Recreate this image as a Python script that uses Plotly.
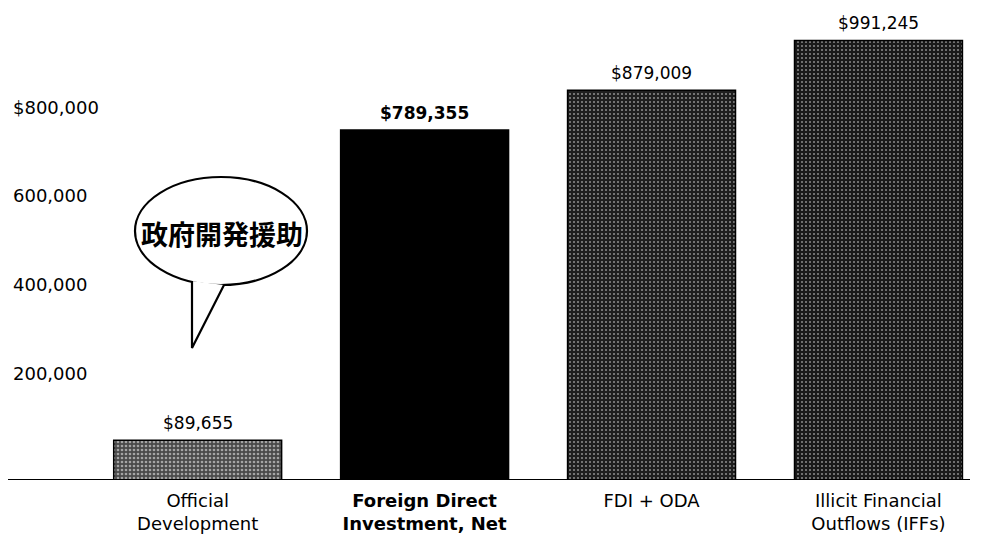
import plotly.graph_objects as go

# Resource flows (US$ millions)
categories = ["Official<br>Development", "<b>Foreign Direct<br>Investment, Net</b>",
              "FDI + ODA", "Illicit Financial<br>Outflows (IFFs)"]
values = [89655, 789355, 879009, 991245]
value_labels = ["$89,655", "<b>$789,355</b>", "$879,009", "$991,245"]
tick_values = [200000, 400000, 600000, 800000]
tick_labels = ["200,000", "400,000", "600,000", "$800,000"]
bubble_text = "政府開発援助"

W, H = 984, 538
MB = 58                     # bottom margin, plot area is full width
PH = H - MB                 # plot height in px


def px(x):
    return x / W


def py(y):
    return (PH - y) / PH


FONT = "DejaVu Sans"

fig = go.Figure()
fig.add_trace(go.Bar(
    x=list(range(len(categories))),
    y=values,
    marker=dict(
        color=["#4a4a4a", "#000000", "#1e1e1e", "#1a1a1a"],
        line=dict(color="#000000", width=1.5),
        pattern=dict(shape=[".", "", ".", "."],
                     fgcolor="#ffffff",
                     size=4,
                     solidity=[0.35, 0.0, 0.2, 0.2],
                     fillmode="overlay"),
    ),
    width=0.74,
    hoverinfo="skip",
))

# value labels above the bars
for i, (v, lab) in enumerate(zip(values, value_labels)):
    fig.add_annotation(x=i, y=v, text=lab, showarrow=False,
                       yanchor="bottom", yshift=5,
                       font=dict(family=FONT, size=17, color="#000"))

# speech bubble
cx, cy, rx, ry = 221, 231, 86, 54
fig.add_shape(type="circle", xref="paper", yref="paper",
              x0=px(cx - rx), x1=px(cx + rx), y0=py(cy + ry), y1=py(cy - ry),
              line=dict(color="#000", width=2.2), fillcolor="#fff", layer="above")
tail = [(192, 281), (192, 348), (224, 285)]
path = "M {} {} L {} {} L {} {}".format(
    px(tail[0][0]), py(tail[0][1]), px(tail[1][0]), py(tail[1][1]),
    px(tail[2][0]), py(tail[2][1]))
fig.add_shape(type="path", xref="paper", yref="paper", path=path,
              line=dict(color="#000", width=2.2), fillcolor="#fff", layer="above")
fig.add_annotation(x=px(cx + 1), y=py(233), xref="paper", yref="paper",
                   xanchor="center", yanchor="middle",
                   text="<b>" + bubble_text + "</b>", showarrow=False,
                   font=dict(family="Noto Sans CJK JP", size=27, color="#000"))

# baseline
fig.add_shape(type="line", xref="paper", yref="y",
              x0=px(8), x1=px(970), y0=0, y1=0,
              line=dict(color="#000", width=2), layer="above")

fig.update_layout(
    width=W, height=H,
    margin=dict(l=0, r=0, t=0, b=MB),
    paper_bgcolor="#fff", plot_bgcolor="#fff",
    showlegend=False,
    font=dict(family=FONT, size=18, color="#000"),
    xaxis=dict(
        tickvals=list(range(len(categories))),
        ticktext=categories,
        range=[-0.871, 3.465],
        showgrid=False, zeroline=False, showline=False,
        ticks="", ticklabelstandoff=8,
        tickfont=dict(family=FONT, size=18, color="#000"),
    ),
    yaxis=dict(
        range=[0, 1082500],
        tickvals=tick_values, ticktext=tick_labels,
        ticklabelposition="inside",
        ticklabelshift=-18,
        ticklabelstandoff=10,
        showgrid=False, zeroline=False, showline=False,
        ticks="", tickfont=dict(family=FONT, size=18, color="#000"),
    ),
)

fig.write_html("out.html")
